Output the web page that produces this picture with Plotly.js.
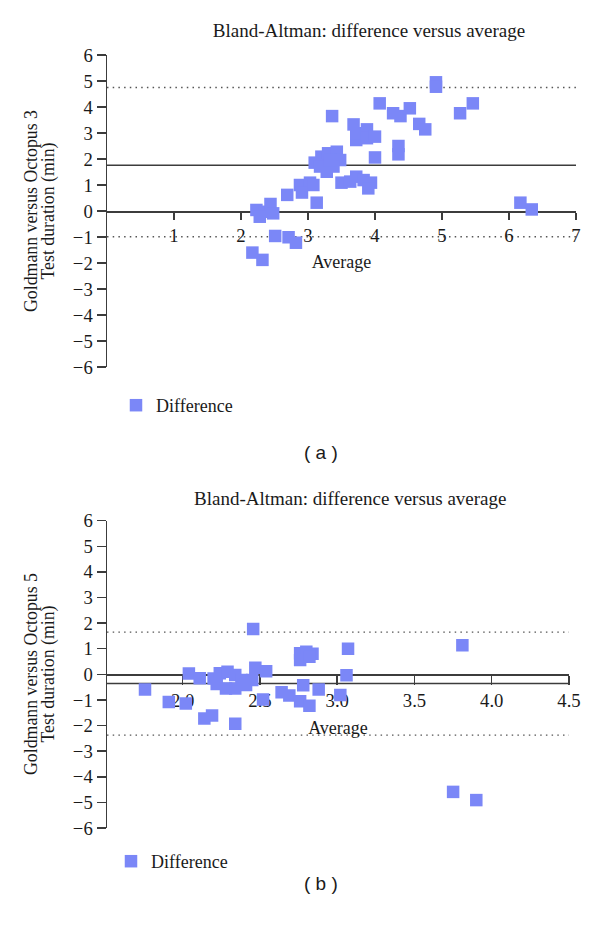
<!DOCTYPE html>
<html><head><meta charset="utf-8">
<script src="https://cdn.plot.ly/plotly-3.0.1.min.js"></script>
<style>html,body{margin:0;padding:0;background:#fff}#chart{width:600px;height:925px}</style>
</head><body><div id="chart"></div>
<script>
// ---- Data: panel (a) Goldmann versus Octopus 3 ----
const avgA  = [2.17, 2.32, 2.23, 2.36, 2.44, 2.48, 2.28, 2.51, 2.71, 2.82, 2.69, 2.88, 3.03, 2.91, 3.08, 3.13,
               3.10, 3.20, 3.30, 3.43, 3.48, 3.38, 3.28, 3.18, 3.33, 3.36, 3.50, 3.63, 3.72, 3.83, 3.94, 3.90,
               3.68, 3.72, 3.72, 3.88, 3.88, 4.00, 4.00, 4.07, 4.27, 4.38, 4.52, 4.35, 4.35, 4.66, 4.75, 4.91,
               4.91, 5.27, 5.46, 6.17, 6.34];
const diffA = [-1.60, -1.88, 0.04, -0.03, 0.27, -0.09, -0.22, -0.96, -1.01, -1.22, 0.62, 1.00, 1.09, 0.71, 1.00, 0.32,
               1.86, 2.09, 2.22, 2.28, 1.96, 1.71, 1.51, 1.71, 1.96, 3.65, 1.09, 1.13, 1.32, 1.19, 1.09, 0.87,
               3.33, 2.73, 2.99, 3.14, 2.80, 2.86, 2.06, 4.14, 3.76, 3.65, 3.95, 2.50, 2.18, 3.35, 3.14, 4.95,
               4.78, 3.76, 4.14, 0.32, 0.06];
const meanA = 1.76, upperA = 4.75, lowerA = -0.99;
const xTicksA = [1, 2, 3, 4, 5, 6, 7];
const xRangeA = [0, 7];

// ---- Data: panel (b) Goldmann versus Octopus 5 ----
const avgB  = [1.756, 1.91, 2.02, 2.04, 2.11, 2.14, 2.19, 2.34, 2.20, 2.24, 2.29, 2.34, 2.38, 2.45, 2.22, 2.28,
               2.34, 2.41, 2.456, 2.47, 2.54, 2.52, 2.64, 2.69, 2.76, 2.78, 2.76, 2.80, 2.84, 2.76, 2.82, 2.88,
               2.82, 3.02, 3.07, 3.06, 3.81, 3.75, 3.90];
const diffB = [-0.59, -1.08, -1.14, 0.03, -0.15, -1.72, -1.61, -1.93, -0.16, 0.04, 0.10, -0.03, -0.22, -0.22, -0.38, -0.55,
               -0.55, -0.42, 1.77, 0.26, 0.12, -0.98, -0.70, -0.83, -1.05, -0.43, 0.82, 0.88, 0.80, 0.56, 0.69, -0.59,
               -1.23, -0.81, 1.00, -0.04, 1.14, -4.59, -4.91];
const meanB = -0.36, upperB = 1.65, lowerB = -2.37;
const xTicksB = [2.0, 2.5, 3.0, 3.5, 4.0, 4.5];
const xTickTextB = ['2.0', '2.5', '3.0', '3.5', '4.0', '4.5'];
const xRangeB = [1.51, 4.5];

const yTicks = [-6, -5, -4, -3, -2, -1, 0, 1, 2, 3, 4, 5, 6];
const yRange = [-6, 6];

// ---- Layout helpers (pixel -> paper) ----
const W = 600, H = 925;
const px = v => v / W;
const py = v => 1 - v / H;
const FONT = '"Liberation Serif", "Times New Roman", serif';
const SANS = '"Liberation Sans", Arial, sans-serif';
const TXT = '#1a1a1a';
const LINE = '#3c3c3c';
const MARK = '#7b87f7';

const axisCommon = {
  showline: true, linecolor: LINE, linewidth: 1.5,
  ticks: 'outside', tickcolor: LINE, tickwidth: 1.5,
  showgrid: false, zeroline: false, automargin: false, fixedrange: true,
  tickfont: {family: FONT, size: 18.7, color: TXT},
  layer: 'below traces'
};

const traces = [
  {type: 'scatter', mode: 'markers', x: avgA, y: diffA, xaxis: 'x', yaxis: 'y', name: 'Difference',
   legend: 'legend', marker: {symbol: 'square', size: 12.5, color: MARK}},
  {type: 'scatter', mode: 'markers', x: avgB, y: diffB, xaxis: 'x2', yaxis: 'y2', name: 'Difference',
   legend: 'legend2', marker: {symbol: 'square', size: 12.5, color: MARK}}
];

function hline(xr, yr, val, dotted) {
  return {type: 'line', xref: xr + ' domain', yref: yr, x0: 0, x1: 1, y0: val, y1: val, layer: 'below',
          line: dotted ? {color: '#555', width: 1.3, dash: '1.5px,4.2px'} : {color: LINE, width: 1.5}};
}

function ytitle(text, xPix, yPix) {
  return {text: text, xref: 'paper', yref: 'paper', x: px(xPix), y: py(yPix), textangle: -90,
          xanchor: 'center', yanchor: 'middle', showarrow: false, font: {family: FONT, size: 17.8, color: TXT}};
}

const layout = {
  width: W, height: H,
  margin: {l: 0, r: 0, t: 0, b: 0},
  paper_bgcolor: '#fff', plot_bgcolor: 'rgba(0,0,0,0)',
  font: {family: FONT, color: TXT},
  title: {text: 'Bland-Altman: difference versus average', font: {family: FONT, size: 19, color: TXT},
          x: px(369), xref: 'paper', xanchor: 'center', y: py(30), yref: 'paper', yanchor: 'middle'},
  xaxis: Object.assign({}, axisCommon, {
    domain: [px(107), px(576)], range: xRangeA, anchor: 'free', position: py(211),
    tickvals: xTicksA, ticklen: 7,
    title: {text: 'Average', font: {family: FONT, size: 18, color: TXT}, standoff: 10}
  }),
  yaxis: Object.assign({}, axisCommon, {
    domain: [py(367), py(55)], range: yRange, anchor: 'x', tickvals: yTicks, ticklen: 9
  }),
  xaxis2: Object.assign({}, axisCommon, {
    domain: [px(107), px(569)], range: xRangeB, anchor: 'free', position: py(674.3),
    tickvals: xTicksB, ticktext: xTickTextB, ticklen: 9,
    title: {text: 'Average', font: {family: FONT, size: 18, color: TXT}, standoff: 11}
  }),
  yaxis2: Object.assign({}, axisCommon, {
    domain: [py(828), py(520.7)], range: yRange, anchor: 'x2', tickvals: yTicks, ticklen: 9
  }),
  shapes: [
    hline('x', 'y', meanA, false), hline('x', 'y', upperA, true), hline('x', 'y', lowerA, true),
    hline('x2', 'y2', meanB, false), hline('x2', 'y2', upperB, true), hline('x2', 'y2', lowerB, true)
  ],
  showlegend: true,
  legend: {x: px(116), y: py(387), xanchor: 'left', yanchor: 'top', bgcolor: 'rgba(0,0,0,0)',
           font: {family: FONT, size: 18, color: TXT}},
  legend2: {x: px(111), y: py(843), xanchor: 'left', yanchor: 'top', bgcolor: 'rgba(0,0,0,0)',
            font: {family: FONT, size: 18, color: TXT}},
  annotations: [
    {text: 'Bland-Altman: difference versus average', xref: 'paper', yref: 'paper', x: px(350), y: py(498),
     xanchor: 'center', yanchor: 'middle', showarrow: false, font: {family: FONT, size: 19, color: TXT}},
    ytitle('Goldmann versus Octopus 3', 31, 211),
    ytitle('Test duration (min)', 47.5, 211),
    ytitle('Goldmann versus Octopus 5', 31, 674),
    ytitle('Test duration (min)', 47.5, 674),
    {text: '( a )', xref: 'paper', yref: 'paper', x: px(321), y: py(452), xanchor: 'center', yanchor: 'middle',
     showarrow: false, font: {family: SANS, size: 19, color: TXT}},
    {text: '( b )', xref: 'paper', yref: 'paper', x: px(321), y: py(883), xanchor: 'center', yanchor: 'middle',
     showarrow: false, font: {family: SANS, size: 19, color: TXT}}
  ]
};

Plotly.newPlot('chart', traces, layout, {displayModeBar: false, staticPlot: true});
</script>
</body></html>
